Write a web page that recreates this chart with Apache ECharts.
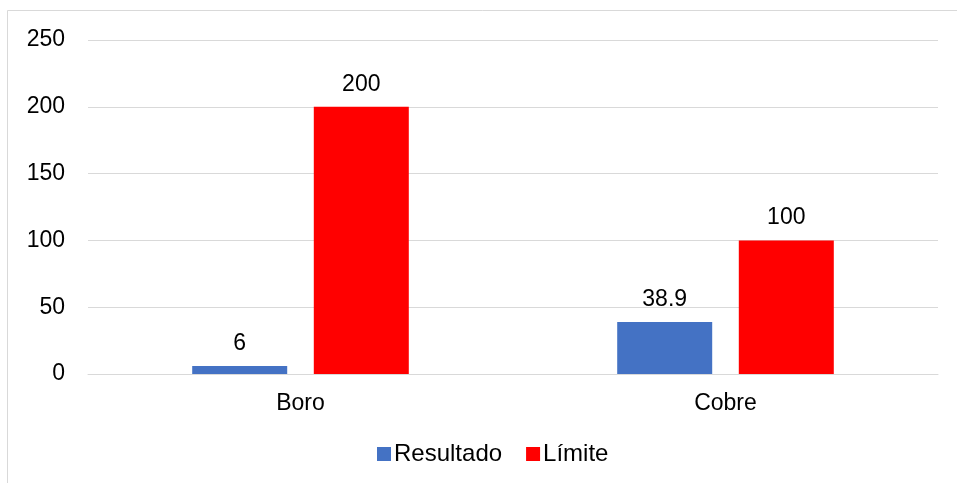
<!DOCTYPE html>
<html><head><meta charset="utf-8">
<script src="https://cdn.jsdelivr.net/npm/echarts@6/dist/echarts.min.js"></script>
<style>html,body{margin:0;padding:0;background:#fff}#c{width:957px;height:483px}</style>
</head><body><div id="c"></div>
<script>
const categories = ['Boro', 'Cobre'];
const resultado = [6, 38.9];
const limite = [200, 100];
const yTicks = [0, 50, 100, 150, 200, 250];

const chart = echarts.init(document.getElementById('c'), null, {renderer: 'canvas'});
const font = 'Liberation Sans, Arial, sans-serif';
const fs = 23;
chart.setOption({
  animation: false,
  backgroundColor: '#fff',
  graphic: [{type: 'rect', shape: {x: 7.5, y: 10.5, width: 1000, height: 1000}, style: {fill: 'none', stroke: '#d9d9d9', lineWidth: 1}, silent: true}],
  grid: {left: 88, right: 19, top: 40, bottom: 109, containLabel: false},
  legend: {
    bottom: 12, left: 372, itemWidth: 14, itemHeight: 14, itemGap: 24,
    icon: 'rect',
    textStyle: {fontFamily: font, fontSize: 24, color: '#000', padding: [0, 0, 0, -2]},
    data: ['Resultado', 'Límite']
  },
  xAxis: {
    type: 'category', data: categories,
    axisLine: {lineStyle: {color: '#d9d9d9', width: 1}},
    axisTick: {show: false},
    axisLabel: {fontFamily: font, fontSize: fs, color: '#000', margin: 18}
  },
  yAxis: {
    type: 'value', min: yTicks[0], max: yTicks[yTicks.length - 1], interval: 50,
    axisLine: {show: false}, axisTick: {show: false},
    splitLine: {lineStyle: {color: '#d9d9d9', width: 1}},
    axisLabel: {fontFamily: font, fontSize: fs, color: '#000', margin: 23, align: 'right'}
  },
  series: [
    {name: 'Resultado', type: 'bar', data: resultado, barWidth: 95, barGap: '28%',
     itemStyle: {color: '#4472c4'},
     label: {show: true, position: 'top', distance: 11, fontFamily: font, fontSize: fs, color: '#000'}},
    {name: 'Límite', type: 'bar', data: limite, barWidth: 95, barGap: '28%',
     itemStyle: {color: '#ff0000'},
     label: {show: true, position: 'top', distance: 11, fontFamily: font, fontSize: fs, color: '#000'}}
  ]
});
</script></body></html>
